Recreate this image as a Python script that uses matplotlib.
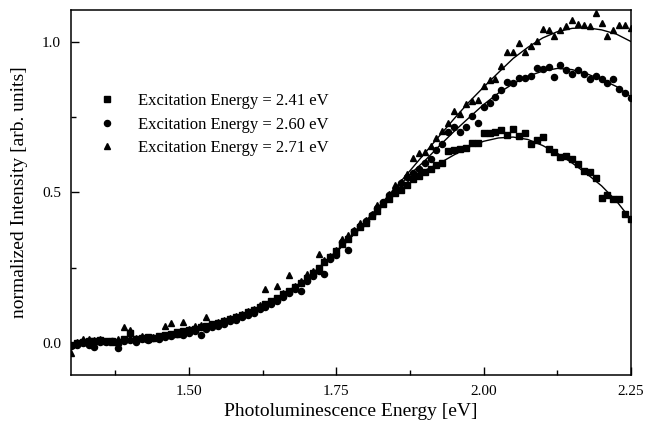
import numpy as np
import matplotlib
matplotlib.use("Agg")
import matplotlib.pyplot as plt
from matplotlib.ticker import MultipleLocator, FormatStrFormatter

# measurement grid [eV]
energy = [1.30, 1.31, 1.32, 1.33, 1.34, 1.35, 1.36, 1.37, 1.38, 1.39,
          1.40, 1.41, 1.42, 1.43, 1.44, 1.45, 1.46, 1.47, 1.48, 1.49,
          1.50, 1.51, 1.52, 1.53, 1.54, 1.55, 1.56, 1.57, 1.58, 1.59,
          1.60, 1.61, 1.62, 1.63, 1.64, 1.65, 1.66, 1.67, 1.68, 1.69,
          1.70, 1.71, 1.72, 1.73, 1.74, 1.75, 1.76, 1.77, 1.78, 1.79,
          1.80, 1.81, 1.82, 1.83, 1.84, 1.85, 1.86, 1.87, 1.88, 1.89,
          1.90, 1.91, 1.92, 1.93, 1.94, 1.95, 1.96, 1.97, 1.98, 1.99,
          2.00, 2.01, 2.02, 2.03, 2.04, 2.05, 2.06, 2.07, 2.08, 2.09,
          2.10, 2.11, 2.12, 2.13, 2.14, 2.15, 2.16, 2.17, 2.18, 2.19,
          2.20, 2.21, 2.22, 2.23, 2.24, 2.25]

# Excitation 2.41 eV (squares)
pl_241 = [-0.005, 0.000, 0.004, 0.008, 0.006, 0.010, 0.006, 0.008, 0.004, 0.012,
          0.032, 0.015, 0.018, 0.020, 0.018, 0.022, 0.028, 0.030, 0.036, 0.040,
          0.044, 0.046, 0.052, 0.056, 0.062, 0.066, 0.073, 0.080, 0.088, 0.094,
          0.103, 0.110, 0.120, 0.130, 0.140, 0.150, 0.162, 0.174, 0.186, 0.200,
          0.215, 0.232, 0.250, 0.268, 0.286, 0.305, 0.330, 0.345, 0.370, 0.385,
          0.400, 0.423, 0.440, 0.462, 0.478, 0.498, 0.508, 0.525, 0.545, 0.555,
          0.569, 0.578, 0.590, 0.599, 0.639, 0.641, 0.644, 0.647, 0.663, 0.663,
          0.699, 0.697, 0.702, 0.708, 0.691, 0.710, 0.688, 0.697, 0.660, 0.674,
          0.685, 0.644, 0.633, 0.619, 0.621, 0.610, 0.594, 0.572, 0.569, 0.549,
          0.481, 0.492, 0.478, 0.477, 0.429, 0.412]

# Excitation 2.60 eV (circles)
pl_260 = [-0.010, -0.008, 0.000, -0.005, -0.012, 0.002, 0.004, 0.006, -0.015, 0.008,
          0.010, 0.003, 0.012, 0.010, 0.016, 0.015, 0.020, 0.022, 0.030, 0.028,
          0.035, 0.040, 0.028, 0.048, 0.052, 0.058, 0.064, 0.072, 0.078, 0.085,
          0.092, 0.100, 0.112, 0.120, 0.130, 0.140, 0.152, 0.165, 0.178, 0.174,
          0.205, 0.222, 0.240, 0.228, 0.278, 0.292, 0.335, 0.309, 0.372, 0.390,
          0.405, 0.425, 0.447, 0.468, 0.490, 0.505, 0.530, 0.552, 0.565, 0.578,
          0.597, 0.612, 0.641, 0.660, 0.702, 0.719, 0.702, 0.719, 0.753, 0.730,
          0.783, 0.798, 0.818, 0.841, 0.868, 0.863, 0.879, 0.879, 0.887, 0.913,
          0.910, 0.916, 0.885, 0.924, 0.907, 0.893, 0.907, 0.894, 0.877, 0.887,
          0.877, 0.865, 0.876, 0.843, 0.830, 0.813]

# Excitation 2.71 eV (triangles)
pl_271 = [-0.034, 0.005, 0.012, 0.015, 0.010, 0.014, 0.008, 0.004, 0.012, 0.052,
          0.045, 0.018, 0.022, 0.014, 0.020, 0.024, 0.058, 0.065, 0.030, 0.071,
          0.048, 0.055, 0.060, 0.086, 0.062, 0.070, 0.075, 0.082, 0.090, 0.098,
          0.105, 0.112, 0.125, 0.178, 0.140, 0.190, 0.165, 0.226, 0.190, 0.205,
          0.230, 0.238, 0.296, 0.275, 0.290, 0.310, 0.345, 0.360, 0.375, 0.398,
          0.410, 0.430, 0.458, 0.470, 0.495, 0.525, 0.535, 0.560, 0.614, 0.630,
          0.635, 0.655, 0.680, 0.705, 0.730, 0.771, 0.760, 0.794, 0.805, 0.807,
          0.855, 0.874, 0.877, 0.920, 0.966, 0.965, 0.998, 0.965, 0.987, 1.004,
          1.042, 1.038, 1.020, 1.038, 1.053, 1.073, 1.060, 1.056, 1.054, 1.097,
          1.062, 1.020, 1.040, 1.056, 1.056, 1.045]

# fitted curves
fit_x = [1.30, 1.35, 1.40, 1.45, 1.50, 1.55, 1.60, 1.65, 1.70, 1.75, 1.80,
         1.825, 1.85, 1.875, 1.90, 1.925, 1.95, 1.975, 2.00, 2.025, 2.05,
         2.075, 2.10, 2.125, 2.15, 2.175, 2.20, 2.225, 2.25]
fit_241 = [0.000, 0.004, 0.012, 0.023, 0.041, 0.064, 0.099, 0.147, 0.212, 0.302, 0.400,
           0.450, 0.498, 0.542, 0.573, 0.597, 0.625, 0.651, 0.670, 0.681, 0.684,
           0.676, 0.656, 0.630, 0.598, 0.562, 0.522, 0.472, 0.410]
fit_260 = [0.000, 0.004, 0.012, 0.023, 0.041, 0.064, 0.100, 0.148, 0.210, 0.302, 0.402,
           0.455, 0.508, 0.560, 0.605, 0.655, 0.703, 0.748, 0.792, 0.830, 0.861,
           0.886, 0.903, 0.912, 0.908, 0.894, 0.875, 0.852, 0.818]
fit_271 = [0.000, 0.004, 0.012, 0.024, 0.042, 0.066, 0.102, 0.150, 0.213, 0.305, 0.405,
           0.460, 0.515, 0.572, 0.630, 0.688, 0.745, 0.800, 0.850, 0.898, 0.945,
           0.982, 1.013, 1.034, 1.045, 1.047, 1.040, 1.026, 1.001]

plt.rcParams['font.family'] = ['Liberation Serif', 'DejaVu Serif']

fig = plt.figure(figsize=(6.56, 4.34), dpi=100)
ax = fig.add_axes([0.108, 0.136, 0.854, 0.841])

ax.plot(fit_x, fit_241, color='black', lw=1.0)
ax.plot(fit_x, fit_260, color='black', lw=1.0)
ax.plot(fit_x, fit_271, color='black', lw=1.0)

ax.plot(energy, pl_241, 's', color='black', ms=4.0, ls='none',
        label='Excitation Energy = 2.41 eV')
ax.plot(energy, pl_260, 'o', color='black', ms=4.4, ls='none',
        label='Excitation Energy = 2.60 eV')
ax.plot(energy, pl_271, '^', color='black', ms=5.0, ls='none',
        label='Excitation Energy = 2.71 eV')

ax.set_xlim(1.30, 2.25)
ax.set_ylim(-0.106, 1.106)
ax.xaxis.set_major_locator(MultipleLocator(0.25))
ax.xaxis.set_minor_locator(MultipleLocator(0.125))
ax.yaxis.set_major_locator(MultipleLocator(0.5))
ax.yaxis.set_minor_locator(MultipleLocator(0.25))
ax.xaxis.set_major_formatter(FormatStrFormatter('%.2f'))
ax.yaxis.set_major_formatter(FormatStrFormatter('%.1f'))
ax.tick_params(which='both', direction='in', top=False, right=False,
               labelsize=11, width=1.0)
ax.tick_params(which='major', length=6, pad=7)
ax.tick_params(which='minor', length=3.5)
for s in ax.spines.values():
    s.set_linewidth(1.1)

ax.set_xlabel('Photoluminescence Energy [eV]', fontsize=14, labelpad=4)
ax.set_ylabel('normalized Intensity [arb. units]', fontsize=14, labelpad=10)

ax.legend(loc='upper left', bbox_to_anchor=(0.037, 0.79), frameon=False,
          fontsize=12, handlelength=1.0, handletextpad=1.4,
          labelspacing=0.45, borderaxespad=0)

fig.savefig('out.png', dpi=100)
